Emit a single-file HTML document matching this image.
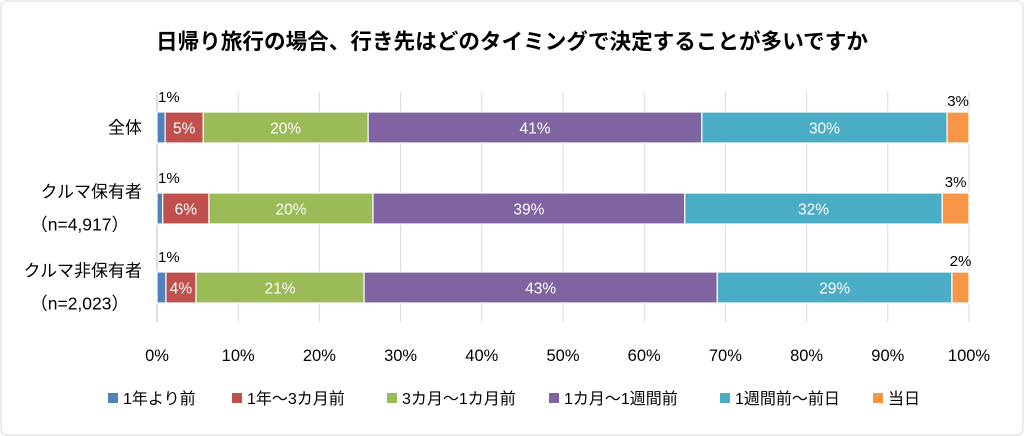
<!DOCTYPE html>
<html><head><meta charset="utf-8"><style>
body{margin:0;background:#fff;}
svg{display:block;font-family:"Liberation Sans","Noto Sans CJK JP",sans-serif;}
</style></head><body>
<svg id="chart" width="1024" height="436" viewBox="0 0 1024 436">
<rect x="1" y="1" width="1022" height="434" rx="6" fill="#fff" stroke="#d9d9d9"/>
<text x="512" y="49" text-anchor="middle" font-size="21.6" font-weight="bold" fill="#000">日帰り旅行の場合、行き先はどのタイミングで決定することが多いですか</text>
<g id="grid"></g><g id="bars"></g><g id="labels"></g><g id="legend"></g>
</svg>
<script>
const categories=["全体","クルマ保有者","クルマ非保有者"];
const subLabels=["","（n=4,917）","（n=2,023）"];
const seriesNames=["1年より前","1年～3カ月前","3カ月～1カ月前","1カ月～1週間前","1週間前～前日","当日"];
const s1=[1.0,0.7,1.1];
const s2=[4.7,5.7,3.7];
const s3=[20.3,20.2,20.7];
const s4=[41.1,38.4,43.5];
const s5=[30.2,31.7,28.9];
const s6=[2.7,3.3,2.1];
const printed=[["1%","5%","20%","41%","30%","3%"],["1%","6%","20%","39%","32%","3%"],["1%","4%","21%","43%","29%","2%"]];
const ticks=[0,10,20,30,40,50,60,70,80,90,100];
const series=[s1,s2,s3,s4,s5,s6];
const colors=["#4F81BD","#C0504D","#9BBB59","#8064A2","#4BACC6","#F79646"];
const NS="http://www.w3.org/2000/svg";
const x0=157,x1=969;
const xs=v=>x0+(x1-x0)*v/100;
const rowTop=[112,193,272],barH=31;
function mk(tag,attrs,parent,text){const e=document.createElementNS(NS,tag);for(const k in attrs)e.setAttribute(k,attrs[k]);if(text!==undefined)e.textContent=text;parent.appendChild(e);return e;}
const grid=document.getElementById("grid"),bars=document.getElementById("bars"),labels=document.getElementById("labels"),legend=document.getElementById("legend");
ticks.forEach(t=>{
 const l=mk("line",{x1:xs(t),x2:xs(t),y1:92,y2:322,stroke:t===0?"#bfbfbf":"#d9d9d9","stroke-width":1},grid);
 
 
 const tx=mk("text",{x:xs(t),y:361,"text-anchor":"middle","font-size":16.5,fill:"#000"},grid,t+"%");
 
 
});
categories.forEach((c,i)=>{
 const cy=rowTop[i]+barH/2;
 if(subLabels[i]){
  const a=mk("text",{x:142,y:cy-11,"text-anchor":"end","font-size":17,fill:"#000"},labels,c);
  
  
  const b=mk("text",{x:129,y:cy+22,"text-anchor":"end","font-size":17.5,fill:"#000"},labels,subLabels[i]);
  
  
 } else {
  const a=mk("text",{x:142,y:cy+6,"text-anchor":"end","font-size":17,fill:"#000"},labels,c);
  
  
 }
 let acc=0;
 series.forEach((s,j)=>{
  const v=s[i];
  const r=mk("rect",{x:xs(acc),y:rowTop[i],width:xs(acc+v)-xs(acc),height:barH,fill:colors[j],stroke:"#fff","stroke-width":1.2},bars);
  
  
  let t;
  if(j===0){
   t=mk("text",{x:xs(acc)+1,y:rowTop[i]-10,"font-size":15,fill:"#000"},labels,printed[i][j]);
  } else if(j===5){
   t=mk("text",{x:xs(acc+v/2),y:rowTop[i]-6,"text-anchor":"middle","font-size":15,fill:"#000"},labels,printed[i][j]);
  } else {
   t=mk("text",{x:xs(acc+v/2),y:cy+6,"text-anchor":"middle","font-size":15.5,fill:"#fff"},labels,printed[i][j]);
  }
  
  
  acc+=v;
 });
});
const lx=[108,232,387,549,720,873];
seriesNames.forEach((n,j)=>{
 const r=mk("rect",{x:lx[j],y:393,width:10,height:10,fill:colors[j]},legend);
 
 
 const t=mk("text",{x:lx[j]+15,y:404,"font-size":16,fill:"#000"},legend,n);
 
 
});
</script>
</body></html>
